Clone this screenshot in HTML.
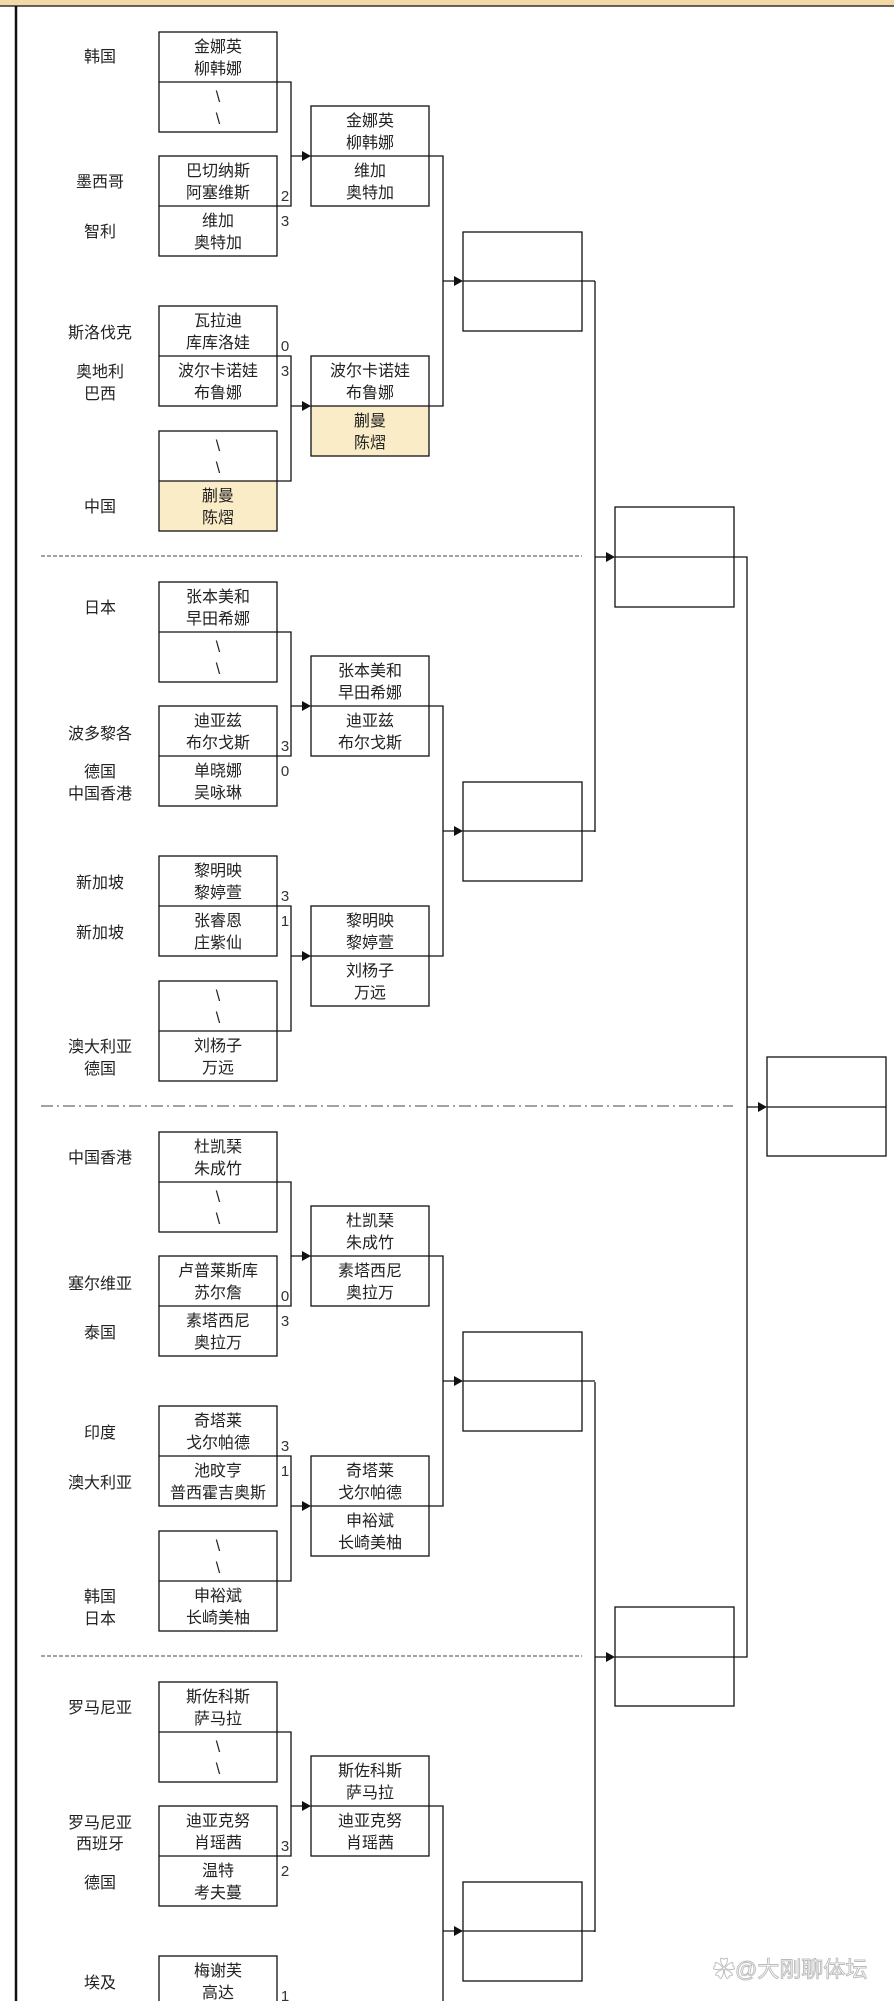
<!DOCTYPE html>
<html><head><meta charset="utf-8"><style>
html,body{margin:0;padding:0;background:#fff;width:894px;height:2001px;overflow:hidden;}
svg{display:block;}
text{font-family:"Liberation Sans","Noto Sans CJK SC",sans-serif;font-size:16px;fill:#222;}
.c{text-anchor:middle;}
.s{font-size:15px;text-anchor:middle;fill:#333;}
</style></head><body>
<svg width="894" height="2001" viewBox="0 0 894 2001" xmlns="http://www.w3.org/2000/svg">
<rect x="0" y="0" width="894" height="6" fill="#f3d9a6"/>
<line x1="0" y1="6" x2="894" y2="6" stroke="#333" stroke-width="1.5"/>
<line x1="16" y1="6" x2="16" y2="2001" stroke="#111" stroke-width="2.5"/>

<line x1="41" y1="556" x2="582" y2="556" stroke="#444" stroke-width="1" stroke-dasharray="4 2"/>
<line x1="41" y1="1106" x2="733" y2="1106" stroke="#444" stroke-width="1" stroke-dasharray="12 4 2 4"/>
<line x1="41" y1="1656" x2="582" y2="1656" stroke="#444" stroke-width="1" stroke-dasharray="4 2"/>

<defs>
<g id="frame">
<rect x="159" y="32" width="118" height="100" fill="none" stroke="#111" stroke-width="1.3"/>
<line x1="159" y1="82" x2="277" y2="82" stroke="#111" stroke-width="1.2"/>
<rect x="159" y="156" width="118" height="100" fill="none" stroke="#111" stroke-width="1.3"/>
<line x1="159" y1="206" x2="277" y2="206" stroke="#111" stroke-width="1.2"/>
<rect x="159" y="306" width="118" height="100" fill="none" stroke="#111" stroke-width="1.3"/>
<line x1="159" y1="356" x2="277" y2="356" stroke="#111" stroke-width="1.2"/>
<rect x="159" y="431" width="118" height="100" fill="none" stroke="#111" stroke-width="1.3"/>
<line x1="159" y1="481" x2="277" y2="481" stroke="#111" stroke-width="1.2"/>
<rect x="311" y="106" width="118" height="100" fill="none" stroke="#111" stroke-width="1.3"/>
<rect x="311" y="356" width="118" height="100" fill="none" stroke="#111" stroke-width="1.3"/>
<rect x="463" y="232" width="119" height="99" fill="none" stroke="#111" stroke-width="1.3"/>
<path d="M277 82H291V206H277M291 156H305M277 356H291V481H277M291 406H305M311 156H443V406H311M443 281H457M463 281H595" fill="none" stroke="#111" stroke-width="1.3"/>
<polygon points="302,151 311,156 302,161" fill="#111"/>
<polygon points="302,401 311,406 302,411" fill="#111"/>
<polygon points="454,276 463,281 454,286" fill="#111"/>
</g>
</defs>

<g>
<rect x="159" y="481" width="118" height="50" fill="#fbecc8"/>
<rect x="311" y="406" width="118" height="50" fill="#fbecc8"/>
<use href="#frame"/>
<text class="c" x="100" y="62">韩国</text>
<text class="c" x="100" y="187">墨西哥</text>
<text class="c" x="100" y="237">智利</text>
<text class="c" x="100" y="338">斯洛伐克</text>
<text class="c" x="100" y="377">奥地利</text>
<text class="c" x="100" y="399">巴西</text>
<text class="c" x="100" y="512">中国</text>
<text class="c" x="218" y="52">金娜英</text><text class="c" x="218" y="74">柳韩娜</text>
<text class="c" x="218" y="102">\</text><text class="c" x="218" y="124">\</text>
<text class="c" x="218" y="176">巴切纳斯</text><text class="c" x="218" y="198">阿塞维斯</text>
<text class="c" x="218" y="226">维加</text><text class="c" x="218" y="248">奥特加</text>
<text class="c" x="218" y="326">瓦拉迪</text><text class="c" x="218" y="348">库库洛娃</text>
<text class="c" x="218" y="376">波尔卡诺娃</text><text class="c" x="218" y="398">布鲁娜</text>
<text class="c" x="218" y="451">\</text><text class="c" x="218" y="473">\</text>
<text class="c" x="218" y="501">蒯曼</text><text class="c" x="218" y="523">陈熠</text>
<text class="c" x="370" y="126">金娜英</text><text class="c" x="370" y="148">柳韩娜</text>
<text class="c" x="370" y="176">维加</text><text class="c" x="370" y="198">奥特加</text>
<text class="c" x="370" y="376">波尔卡诺娃</text><text class="c" x="370" y="398">布鲁娜</text>
<text class="c" x="370" y="426">蒯曼</text><text class="c" x="370" y="448">陈熠</text>
<text class="s" x="285" y="201">2</text><text class="s" x="285" y="226">3</text>
<text class="s" x="285" y="351">0</text><text class="s" x="285" y="376">3</text>
</g>

<g transform="translate(0,550)">
<use href="#frame"/>
<text class="c" x="100" y="63">日本</text>
<text class="c" x="100" y="189">波多黎各</text>
<text class="c" x="100" y="227">德国</text>
<text class="c" x="100" y="249">中国香港</text>
<text class="c" x="100" y="338">新加坡</text>
<text class="c" x="100" y="388">新加坡</text>
<text class="c" x="100" y="502">澳大利亚</text>
<text class="c" x="100" y="524">德国</text>
<text class="c" x="218" y="52">张本美和</text><text class="c" x="218" y="74">早田希娜</text>
<text class="c" x="218" y="102">\</text><text class="c" x="218" y="124">\</text>
<text class="c" x="218" y="176">迪亚兹</text><text class="c" x="218" y="198">布尔戈斯</text>
<text class="c" x="218" y="226">单晓娜</text><text class="c" x="218" y="248">吴咏琳</text>
<text class="c" x="218" y="326">黎明映</text><text class="c" x="218" y="348">黎婷萱</text>
<text class="c" x="218" y="376">张睿恩</text><text class="c" x="218" y="398">庄紫仙</text>
<text class="c" x="218" y="451">\</text><text class="c" x="218" y="473">\</text>
<text class="c" x="218" y="501">刘杨子</text><text class="c" x="218" y="523">万远</text>
<text class="c" x="370" y="126">张本美和</text><text class="c" x="370" y="148">早田希娜</text>
<text class="c" x="370" y="176">迪亚兹</text><text class="c" x="370" y="198">布尔戈斯</text>
<text class="c" x="370" y="376">黎明映</text><text class="c" x="370" y="398">黎婷萱</text>
<text class="c" x="370" y="426">刘杨子</text><text class="c" x="370" y="448">万远</text>
<text class="s" x="285" y="201">3</text><text class="s" x="285" y="226">0</text>
<text class="s" x="285" y="351">3</text><text class="s" x="285" y="376">1</text>
</g>

<g transform="translate(0,1100)">
<use href="#frame"/>
<text class="c" x="100" y="63">中国香港</text>
<text class="c" x="100" y="189">塞尔维亚</text>
<text class="c" x="100" y="238">泰国</text>
<text class="c" x="100" y="338">印度</text>
<text class="c" x="100" y="388">澳大利亚</text>
<text class="c" x="100" y="502">韩国</text>
<text class="c" x="100" y="524">日本</text>
<text class="c" x="218" y="52">杜凯琹</text><text class="c" x="218" y="74">朱成竹</text>
<text class="c" x="218" y="102">\</text><text class="c" x="218" y="124">\</text>
<text class="c" x="218" y="176">卢普莱斯库</text><text class="c" x="218" y="198">苏尔詹</text>
<text class="c" x="218" y="226">素塔西尼</text><text class="c" x="218" y="248">奥拉万</text>
<text class="c" x="218" y="326">奇塔莱</text><text class="c" x="218" y="348">戈尔帕德</text>
<text class="c" x="218" y="376">池旼亨</text><text class="c" x="218" y="398">普西霍吉奥斯</text>
<text class="c" x="218" y="451">\</text><text class="c" x="218" y="473">\</text>
<text class="c" x="218" y="501">申裕斌</text><text class="c" x="218" y="523">长崎美柚</text>
<text class="c" x="370" y="126">杜凯琹</text><text class="c" x="370" y="148">朱成竹</text>
<text class="c" x="370" y="176">素塔西尼</text><text class="c" x="370" y="198">奥拉万</text>
<text class="c" x="370" y="376">奇塔莱</text><text class="c" x="370" y="398">戈尔帕德</text>
<text class="c" x="370" y="426">申裕斌</text><text class="c" x="370" y="448">长崎美柚</text>
<text class="s" x="285" y="201">0</text><text class="s" x="285" y="226">3</text>
<text class="s" x="285" y="351">3</text><text class="s" x="285" y="376">1</text>
</g>

<g transform="translate(0,1650)">
<use href="#frame"/>
<text class="c" x="100" y="63">罗马尼亚</text>
<text class="c" x="100" y="178">罗马尼亚</text>
<text class="c" x="100" y="199">西班牙</text>
<text class="c" x="100" y="238">德国</text>
<text class="c" x="100" y="338">埃及</text>
<text class="c" x="218" y="52">斯佐科斯</text><text class="c" x="218" y="74">萨马拉</text>
<text class="c" x="218" y="102">\</text><text class="c" x="218" y="124">\</text>
<text class="c" x="218" y="176">迪亚克努</text><text class="c" x="218" y="198">肖瑶茜</text>
<text class="c" x="218" y="226">温特</text><text class="c" x="218" y="248">考夫蔓</text>
<text class="c" x="218" y="326">梅谢芙</text><text class="c" x="218" y="348">高达</text>
<text class="c" x="370" y="126">斯佐科斯</text><text class="c" x="370" y="148">萨马拉</text>
<text class="c" x="370" y="176">迪亚克努</text><text class="c" x="370" y="198">肖瑶茜</text>
<text class="s" x="285" y="201">3</text><text class="s" x="285" y="226">2</text>
<text class="s" x="285" y="351">1</text>
</g>

<path d="M595 281V832M595 557H609M595 1382V1932M595 1657H609" fill="none" stroke="#111" stroke-width="1.3"/>
<polygon points="606,552 615,557 606,562" fill="#111"/>
<polygon points="606,1652 615,1657 606,1662" fill="#111"/>
<rect x="615" y="507" width="119" height="100" fill="none" stroke="#111" stroke-width="1.3"/>
<rect x="615" y="1607" width="119" height="99" fill="none" stroke="#111" stroke-width="1.3"/>
<path d="M615 557H747V1657H615M747 1107H761" fill="none" stroke="#111" stroke-width="1.3"/>
<polygon points="758,1102 767,1107 758,1112" fill="#111"/>
<rect x="767" y="1057" width="119" height="99" fill="none" stroke="#111" stroke-width="1.3"/>
<line x1="767" y1="1107" x2="886" y2="1107" stroke="#111" stroke-width="1.2"/>

<text x="713" y="1977" style="font-size:22px;fill:#fff;stroke:#bbb;stroke-width:0.9;">✿@大刚聊体坛</text>
</svg>
</body></html>
